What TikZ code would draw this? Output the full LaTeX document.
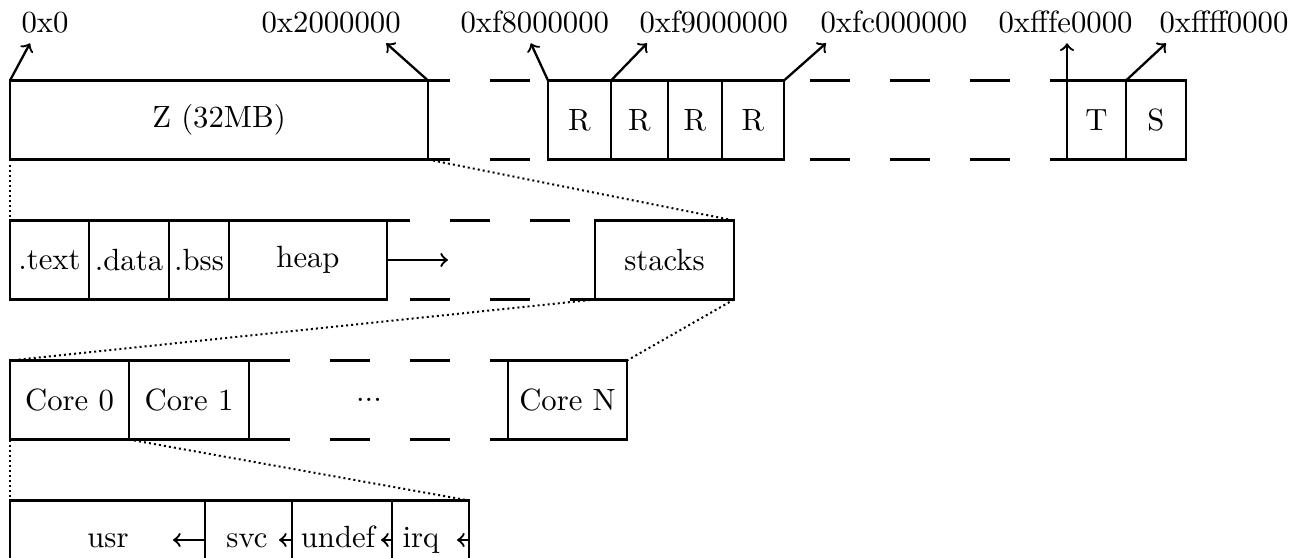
\documentclass[tikz,border=0pt]{standalone}
\usetikzlibrary{calc}
\newcommand\pu{0.3257pt}
\begin{document}
\begin{tikzpicture}[x=\pu, y=-\pu,
  blk/.style={draw, line width=0.75pt, inner sep=0pt, outer sep=0pt, anchor=north west,
              minimum height=79*\pu, minimum width=#1*\pu},
  gapline/.style={line width=0.75pt, dash pattern=on 13.03pt off 13.03pt},
  zoomline/.style={line width=0.65pt, densely dotted},
  addr/.style={inner sep=0pt, anchor=base west},
  ptr/.style={->, line width=0.75pt},
  word/.style={inner sep=0pt, anchor=base}]
\useasboundingbox (0,0) rectangle (1299,558);
\clip (0,0) rectangle (1299,558);

% address space
\node[blk=418] (z)  at (10,80.5)   {Z (32MB)};
\node[blk=63]  (r1) at (548,80.5)  {R};
\node[blk=57]  (r2) at (611,80.5)  {R};
\node[blk=54]  (r3) at (668,80.5)  {R};
\node[blk=62]  (r4) at (722,80.5)  {R};
\node[blk=59]  (t)  at (1067,80.5) {T};
\node[blk=60]  (s)  at (1126,80.5) {S};
\draw[gapline] (z.north west) -- (s.north east);
\draw[gapline] (z.south west) -- (s.south east);

% addresses
\node[addr] (a0) at (21,33)   {0x0};
\node[addr] (a1) at (261,33)  {0x2000000};
\node[addr] (a2) at (460,33)  {0xf8000000};
\node[addr] (a3) at (639,33)  {0xf9000000};
\node[addr] (a4) at (820,33)  {0xfc000000};
\node[addr] (a5) at (998,33)  {0xfffe0000};
\node[addr] (a6) at (1159,33) {0xffff0000};
\draw[ptr] (z.north west)  -- ($(a0.south west)+(9,9)$);
\draw[ptr] (z.north east)  -- ($(a1.south east)+(-15,9)$);
\draw[ptr] (r1.north west) -- ($(a2.south)+(-4,9)$);
\draw[ptr] (r2.north west) -- ($(a3.south west)+(8,9)$);
\draw[ptr] (r4.north east) -- ($(a4.south west)+(6,9)$);
\draw[ptr] (t.north west)  -- ($(t.north west |- a5.south)+(0,9)$);
\draw[ptr] (s.north west)  -- ($(a6.south west)+(7,9)$);

% Z region
\node[blk=79]  (text)   at (10,220.5)  {.text};
\node[blk=80]  (data)   at (89,220.5)  {.data};
\node[blk=60]  (bss)    at (169,220.5) {.bss};
\node[blk=158] (heap)   at (229,220.5) {heap};
\node[blk=139] (stacks) at (595,220.5) {stacks};
\draw[gapline, dash phase=13.03pt] (text.north west) -- (stacks.north east);
\draw[gapline] (text.south west) -- (stacks.south east);
\coordinate (grow) at ($(heap.east)+(61,0)$);
\draw[ptr] (heap.east) -- (grow);

% stacks
\node[blk=119] (c0) at (10,360.5)  {Core 0};
\node[blk=120] (c1) at (129,360.5) {Core 1};
\node[blk=119] (cn) at (508,360.5) {Core N};
\node (dots) at (369,400) {...};
\draw[gapline] (c0.north west) -- (cn.north east);
\draw[gapline] (c0.south west) -- (cn.south east);

% per-core stacks
\node[blk=195] (usr)   at (10,500.5)  {};
\node[blk=87]  (svc)   at (205,500.5) {};
\node[blk=100] (undef) at (292,500.5) {};
\node[blk=77]  (irq)   at (392,500.5) {};
\node[word] (tusr)   at (108,547) {usr};
\node[word] (tsvc)   at (247,547) {svc};
\node[word] (tundef) at (338,547) {undef};
\node[word] (tirq)   at (421,547) {irq};
\coordinate (eusr)   at ($(svc.west)+(-32,0)$);
\coordinate (esvc)   at ($(undef.west)+(-13,0)$);
\coordinate (eundef) at ($(irq.west)+(-11,0)$);
\coordinate (eirq)   at ($(irq.east)+(-12,0)$);
\draw[ptr] (svc.west)   -- (eusr);
\draw[ptr] (undef.west) -- (esvc);
\draw[ptr] (irq.west)   -- (eundef);
\draw[ptr] (irq.east)   -- (eirq);

% zoom guides
\draw[zoomline] (z.south west) -- (text.north west);
\draw[zoomline] (z.south east) -- (stacks.north east);
\draw[zoomline] (stacks.south west) -- (c0.north west);
\draw[zoomline] (stacks.south east) -- (cn.north east);
\draw[zoomline] (c0.south west) -- (usr.north west);
\draw[zoomline] (c0.south east) -- (irq.north east);
\end{tikzpicture}
\end{document}
